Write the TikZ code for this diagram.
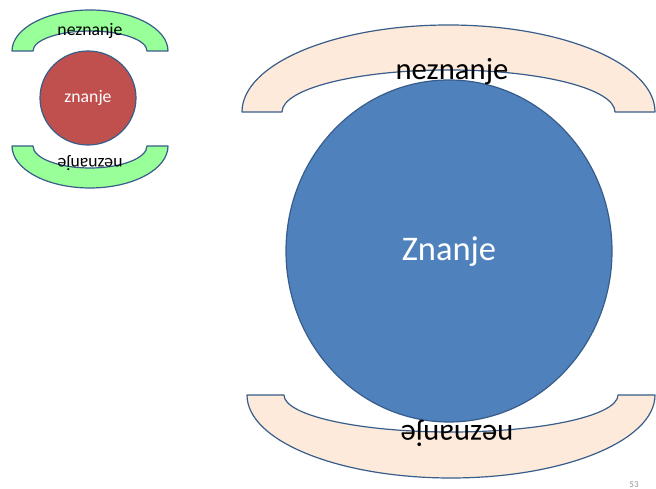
\documentclass[tikz,border=0pt]{standalone}
\usepackage{fontspec}
\setmainfont{Carlito}
\usetikzlibrary{shapes.geometric}
\definecolor{edgeblue}{RGB}{56,93,138}
\definecolor{lightgreen}{RGB}{153,255,153}
\definecolor{peach}{RGB}{253,234,218}
\definecolor{bigblue}{RGB}{79,129,189}
\definecolor{redfill}{RGB}{192,80,77}
\definecolor{pagegray}{RGB}{150,150,150}
\tikzset{
  blockarc/.style={draw=edgeblue, line width=1.2pt, line join=round},
  txtbase/.style={inner sep=0pt, text=black},
  smalltext/.style={txtbase, font=\fontsize{17.7}{20}\selectfont},
  bigtext/.style={txtbase, font=\fontsize{30.7}{34}\selectfont}
}
\begin{document}
\begin{tikzpicture}[x=1pt,y=1pt]
\clip (0,0) rectangle (656,489);
\fill[white] (0,0) rectangle (656,489);
% small group
\path[blockarc, fill=lightgreen] (12,438) arc[start angle=180, end angle=0, x radius=78, y radius=41]
  -- (147,438) arc[start angle=0, end angle=180, x radius=57, y radius=20] -- cycle;
\path[blockarc, fill=lightgreen] (12,343) arc[start angle=180, end angle=360, x radius=78, y radius=42]
  -- (147,343) arc[start angle=0, end angle=-180, x radius=57, y radius=22] -- cycle;
\node[draw=edgeblue, line width=1.2pt, fill=redfill, ellipse, minimum width=96pt, minimum height=94pt, inner sep=0pt] (smallcircle) at (88,391) {};
\node[smalltext, text=white] (smallknow) at (88,391) {znanje};
\node[smalltext] (smalltop) at (90,458) {neznanje};
\node[smalltext, rotate=180] (smallbottom) at (90,326) {neznanje};
% big group
\path[blockarc, fill=peach] (242,377) arc[start angle=180, end angle=0, x radius=206.5, y radius=87]
  -- (615,377) arc[start angle=0, end angle=180, x radius=166.5, y radius=42] -- cycle;
\path[blockarc, fill=peach] (247,94) arc[start angle=180, end angle=360, x radius=204, y radius=83]
  -- (618,94) arc[start angle=0, end angle=-180, x radius=167, y radius=37] -- cycle;
\node[draw=edgeblue, line width=1.2pt, fill=bigblue, ellipse, minimum width=326pt, minimum height=342pt, inner sep=0pt] (bigcircle) at (449,238) {};
\node[txtbase, text=white, font=\fontsize{34.5}{38}\selectfont] (bigknow) at (449,237) {Znanje};
\node[bigtext] (bigtop) at (452,417) {neznanje};
\node[bigtext, rotate=180] (bigbottom) at (457,56) {neznanje};
\node[inner sep=0pt, anchor=north, text=pagegray, font=\fontsize{9}{10}\selectfont] (pagenum) at (634,7.5) {53};
\end{tikzpicture}
\end{document}
